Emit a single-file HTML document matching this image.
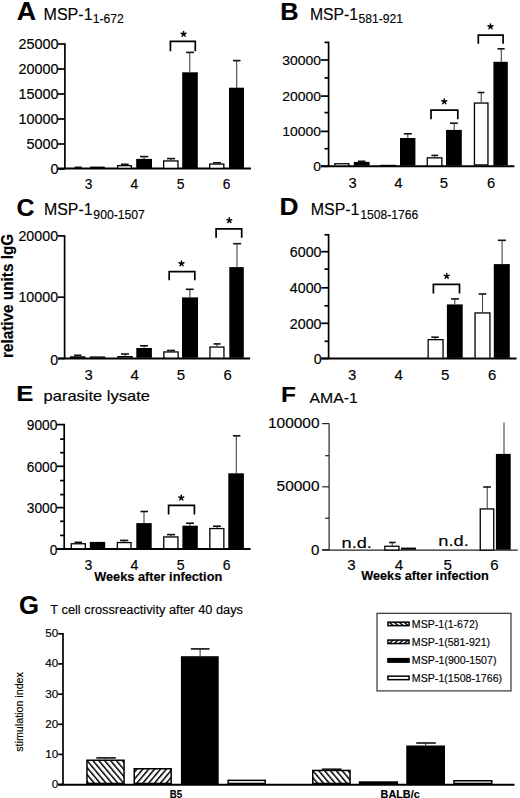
<!DOCTYPE html>
<html><head><meta charset="utf-8"><style>
html,body{margin:0;padding:0;background:#fff;}
body{width:520px;height:798px;overflow:hidden;}
svg{display:block;font-family:"Liberation Sans",sans-serif;}
text{stroke:#000;stroke-width:0.15px;}
</style></head><body>
<svg width="520" height="798" viewBox="0 0 520 798" font-family="Liberation Sans, sans-serif">
<defs><pattern id="hb" patternUnits="userSpaceOnUse" width="4.5" height="10" patternTransform="rotate(-40)"><rect width="4.5" height="10" fill="#fff"/><rect width="1.5" height="10" fill="#000"/></pattern><pattern id="hf" patternUnits="userSpaceOnUse" width="4.5" height="10" patternTransform="rotate(40)"><rect width="4.5" height="10" fill="#fff"/><rect width="1.5" height="10" fill="#000"/></pattern><pattern id="sb" patternUnits="userSpaceOnUse" width="3.2" height="10" patternTransform="rotate(-50)"><rect width="3.2" height="10" fill="#fff"/><rect width="1.4" height="10" fill="#000"/></pattern><pattern id="sf" patternUnits="userSpaceOnUse" width="3.2" height="10" patternTransform="rotate(50)"><rect width="3.2" height="10" fill="#fff"/><rect width="1.4" height="10" fill="#000"/></pattern></defs>
<rect width="520" height="798" fill="#fff"/>
<text transform="translate(16.83,20.00) scale(1.036,1)" font-size="25.94" font-weight="bold" fill="#000">A</text>
<text transform="translate(43.51,19.60) scale(0.946,1)" font-size="17.00" fill="#000">MSP-1</text>
<text transform="translate(92.79,22.70) scale(0.914,1)" font-size="13.29" fill="#000">1-672</text>
<line x1="64.90" y1="43.20" x2="64.90" y2="168.60" stroke="#000" stroke-width="1.7"/>
<line x1="58.00" y1="44.00" x2="64.90" y2="44.00" stroke="#000" stroke-width="1.7"/>
<text transform="translate(18.44,49.30) scale(1.040,1)" font-size="13.86">25000</text>
<line x1="58.00" y1="69.00" x2="64.90" y2="69.00" stroke="#000" stroke-width="1.7"/>
<text transform="translate(18.44,74.30) scale(1.040,1)" font-size="13.86">20000</text>
<line x1="58.00" y1="94.00" x2="64.90" y2="94.00" stroke="#000" stroke-width="1.7"/>
<text transform="translate(18.44,99.30) scale(1.040,1)" font-size="13.86">15000</text>
<line x1="58.00" y1="119.00" x2="64.90" y2="119.00" stroke="#000" stroke-width="1.7"/>
<text transform="translate(18.44,124.30) scale(1.040,1)" font-size="13.86">10000</text>
<line x1="58.00" y1="144.00" x2="64.90" y2="144.00" stroke="#000" stroke-width="1.7"/>
<text transform="translate(26.44,149.30) scale(1.040,1)" font-size="13.86">5000</text>
<line x1="58.00" y1="169.00" x2="64.90" y2="169.00" stroke="#000" stroke-width="1.7"/>
<text transform="translate(50.51,174.30) scale(1.040,1)" font-size="13.86">0</text>
<line x1="58.00" y1="168.60" x2="251.00" y2="168.60" stroke="#000" stroke-width="2.0"/>
<line x1="78.00" y1="167.30" x2="78.00" y2="167.80" stroke="#444" stroke-width="1.1"/>
<line x1="74.50" y1="167.30" x2="81.70" y2="167.30" stroke="#111" stroke-width="1.6"/>
<rect x="90.00" y="166.60" width="14.80" height="1.40" fill="#000"/>
<rect x="117.65" y="165.65" width="13.70" height="2.70" fill="#fff" stroke="#000" stroke-width="1.3"/>
<line x1="124.90" y1="164.30" x2="124.90" y2="165.50" stroke="#444" stroke-width="1.1"/>
<line x1="121.00" y1="164.30" x2="128.75" y2="164.30" stroke="#111" stroke-width="1.6"/>
<rect x="136.20" y="158.90" width="15.80" height="9.10" fill="#000"/>
<line x1="144.10" y1="156.60" x2="144.10" y2="159.00" stroke="#444" stroke-width="1.1"/>
<line x1="140.00" y1="156.60" x2="148.30" y2="156.60" stroke="#111" stroke-width="1.6"/>
<rect x="163.65" y="160.95" width="14.30" height="7.40" fill="#fff" stroke="#000" stroke-width="1.3"/>
<line x1="171.00" y1="158.60" x2="171.00" y2="160.50" stroke="#444" stroke-width="1.1"/>
<line x1="167.00" y1="158.60" x2="175.00" y2="158.60" stroke="#111" stroke-width="1.6"/>
<rect x="182.20" y="72.30" width="15.60" height="95.70" fill="#000"/>
<line x1="189.80" y1="52.40" x2="189.80" y2="72.50" stroke="#444" stroke-width="1.1"/>
<line x1="186.00" y1="52.40" x2="194.00" y2="52.40" stroke="#111" stroke-width="1.6"/>
<polyline points="170.40,51.30 170.40,41.35 195.30,41.35 195.30,51.30" fill="none" stroke="#000" stroke-width="1.7"/>
<path d="M183.60,34.03L183.60,31.43M183.60,34.03L186.07,33.23M183.60,34.03L185.13,36.13M183.60,34.03L182.07,36.13M183.60,34.03L181.13,33.23" stroke="#000" stroke-width="1.45" stroke-linecap="round" fill="none"/>
<rect x="209.65" y="164.05" width="14.20" height="4.30" fill="#fff" stroke="#000" stroke-width="1.3"/>
<line x1="216.80" y1="162.80" x2="216.80" y2="163.50" stroke="#444" stroke-width="1.1"/>
<line x1="213.00" y1="162.80" x2="221.00" y2="162.80" stroke="#111" stroke-width="1.6"/>
<rect x="229.00" y="87.70" width="15.00" height="80.30" fill="#000"/>
<line x1="236.70" y1="60.60" x2="236.70" y2="88.00" stroke="#444" stroke-width="1.1"/>
<line x1="233.00" y1="60.60" x2="240.50" y2="60.60" stroke="#111" stroke-width="1.6"/>
<text transform="translate(84.79,189.30) scale(1.000,1)" font-size="13.71">3</text>
<text transform="translate(130.61,189.30) scale(1.000,1)" font-size="13.91">4</text>
<text transform="translate(176.74,189.30) scale(1.000,1)" font-size="13.91">5</text>
<text transform="translate(222.73,189.30) scale(1.000,1)" font-size="13.71">6</text>
<text transform="translate(280.35,19.50) scale(1.063,1)" font-size="23.91" font-weight="bold" fill="#000">B</text>
<text transform="translate(309.94,19.70) scale(0.918,1)" font-size="17.14" fill="#000">MSP-1</text>
<text transform="translate(358.51,22.90) scale(0.954,1)" font-size="12.71" fill="#000">581-921</text>
<line x1="328.60" y1="41.60" x2="328.60" y2="166.30" stroke="#000" stroke-width="1.7"/>
<line x1="321.00" y1="60.00" x2="328.60" y2="60.00" stroke="#000" stroke-width="1.7"/>
<text transform="translate(282.16,64.70) scale(1.040,1)" font-size="13.43">30000</text>
<line x1="321.00" y1="96.10" x2="328.60" y2="96.10" stroke="#000" stroke-width="1.7"/>
<text transform="translate(282.16,100.80) scale(1.040,1)" font-size="13.43">20000</text>
<line x1="321.00" y1="131.40" x2="328.60" y2="131.40" stroke="#000" stroke-width="1.7"/>
<text transform="translate(282.16,136.10) scale(1.040,1)" font-size="13.43">10000</text>
<line x1="321.00" y1="166.30" x2="328.60" y2="166.30" stroke="#000" stroke-width="1.7"/>
<text transform="translate(313.24,171.00) scale(1.040,1)" font-size="13.43">0</text>
<line x1="324.50" y1="42.40" x2="328.60" y2="42.40" stroke="#000" stroke-width="1.7"/>
<line x1="324.50" y1="77.90" x2="328.60" y2="77.90" stroke="#000" stroke-width="1.7"/>
<line x1="324.50" y1="112.60" x2="328.60" y2="112.60" stroke="#000" stroke-width="1.7"/>
<line x1="324.50" y1="148.70" x2="328.60" y2="148.70" stroke="#000" stroke-width="1.7"/>
<line x1="321.00" y1="166.30" x2="514.40" y2="166.30" stroke="#000" stroke-width="2.0"/>
<rect x="334.85" y="163.75" width="14.10" height="2.20" fill="#fff" stroke="#000" stroke-width="1.3"/>
<rect x="353.80" y="161.90" width="15.80" height="3.70" fill="#000"/>
<line x1="361.70" y1="161.30" x2="361.70" y2="162.00" stroke="#444" stroke-width="1.1"/>
<line x1="358.00" y1="161.30" x2="365.50" y2="161.30" stroke="#111" stroke-width="1.6"/>
<rect x="381.05" y="165.45" width="14.10" height="0.50" fill="#fff" stroke="#000" stroke-width="1.3"/>
<rect x="400.00" y="138.00" width="15.40" height="27.60" fill="#000"/>
<line x1="407.80" y1="133.80" x2="407.80" y2="138.20" stroke="#444" stroke-width="1.1"/>
<line x1="403.80" y1="133.80" x2="411.90" y2="133.80" stroke="#111" stroke-width="1.6"/>
<rect x="427.25" y="157.85" width="14.60" height="8.10" fill="#fff" stroke="#000" stroke-width="1.3"/>
<line x1="434.80" y1="155.40" x2="434.80" y2="157.50" stroke="#444" stroke-width="1.1"/>
<line x1="431.40" y1="155.40" x2="438.20" y2="155.40" stroke="#111" stroke-width="1.6"/>
<rect x="446.00" y="129.90" width="15.80" height="35.70" fill="#000"/>
<line x1="454.20" y1="123.20" x2="454.20" y2="130.00" stroke="#444" stroke-width="1.1"/>
<line x1="450.00" y1="123.20" x2="457.80" y2="123.20" stroke="#111" stroke-width="1.6"/>
<polyline points="431.00,119.30 431.00,110.05 457.80,110.05 457.80,119.30" fill="none" stroke="#000" stroke-width="1.7"/>
<path d="M444.30,101.53L444.30,98.93M444.30,101.53L446.77,100.73M444.30,101.53L445.83,103.63M444.30,101.53L442.77,103.63M444.30,101.53L441.83,100.73" stroke="#000" stroke-width="1.45" stroke-linecap="round" fill="none"/>
<rect x="474.45" y="103.05" width="13.50" height="61.90" fill="#fff" stroke="#000" stroke-width="1.3"/>
<line x1="481.20" y1="92.50" x2="481.20" y2="102.60" stroke="#444" stroke-width="1.1"/>
<line x1="477.60" y1="92.50" x2="484.40" y2="92.50" stroke="#111" stroke-width="1.6"/>
<rect x="493.40" y="61.80" width="14.40" height="103.80" fill="#000"/>
<line x1="501.30" y1="48.80" x2="501.30" y2="62.00" stroke="#444" stroke-width="1.1"/>
<line x1="497.50" y1="48.80" x2="504.70" y2="48.80" stroke="#111" stroke-width="1.6"/>
<polyline points="478.30,43.80 478.30,35.15 503.10,35.15 503.10,43.80" fill="none" stroke="#000" stroke-width="1.7"/>
<path d="M490.50,26.53L490.50,23.93M490.50,26.53L492.97,25.73M490.50,26.53L492.03,28.63M490.50,26.53L488.97,28.63M490.50,26.53L488.03,25.73" stroke="#000" stroke-width="1.45" stroke-linecap="round" fill="none"/>
<text transform="translate(348.42,187.80) scale(1.000,1)" font-size="14.71">3</text>
<text transform="translate(394.13,187.80) scale(1.000,1)" font-size="14.93">4</text>
<text transform="translate(439.86,187.80) scale(1.000,1)" font-size="14.93">5</text>
<text transform="translate(487.04,187.80) scale(1.000,1)" font-size="14.71">6</text>
<text transform="translate(16.50,215.80) scale(1.069,1)" font-size="23.29" font-weight="bold" fill="#000">C</text>
<text transform="translate(44.03,215.10) scale(0.958,1)" font-size="16.57" fill="#000">MSP-1</text>
<text transform="translate(93.35,218.90) scale(0.982,1)" font-size="12.43" fill="#000">900-1507</text>
<line x1="64.60" y1="235.10" x2="64.60" y2="358.40" stroke="#000" stroke-width="1.7"/>
<line x1="58.00" y1="235.90" x2="64.60" y2="235.90" stroke="#000" stroke-width="1.7"/>
<text transform="translate(18.45,240.90) scale(1.040,1)" font-size="13.71">20000</text>
<line x1="58.00" y1="297.20" x2="64.60" y2="297.20" stroke="#000" stroke-width="1.7"/>
<text transform="translate(18.45,302.20) scale(1.040,1)" font-size="13.71">10000</text>
<line x1="58.00" y1="358.50" x2="64.60" y2="358.50" stroke="#000" stroke-width="1.7"/>
<text transform="translate(50.18,364.90) scale(1.040,1)" font-size="13.71">0</text>
<line x1="58.00" y1="358.40" x2="250.20" y2="358.40" stroke="#000" stroke-width="2.0"/>
<rect x="70.65" y="356.95" width="14.10" height="1.20" fill="#fff" stroke="#000" stroke-width="1.3"/>
<line x1="77.70" y1="355.30" x2="77.70" y2="356.50" stroke="#444" stroke-width="1.1"/>
<line x1="74.00" y1="355.30" x2="81.50" y2="355.30" stroke="#111" stroke-width="1.6"/>
<rect x="89.80" y="356.40" width="15.40" height="1.40" fill="#000"/>
<rect x="117.95" y="356.65" width="14.10" height="1.50" fill="#fff" stroke="#000" stroke-width="1.3"/>
<line x1="125.00" y1="354.00" x2="125.00" y2="356.20" stroke="#444" stroke-width="1.1"/>
<line x1="121.00" y1="354.00" x2="129.00" y2="354.00" stroke="#111" stroke-width="1.6"/>
<rect x="136.30" y="348.00" width="15.60" height="9.80" fill="#000"/>
<line x1="144.10" y1="345.80" x2="144.10" y2="348.20" stroke="#444" stroke-width="1.1"/>
<line x1="140.00" y1="345.80" x2="148.00" y2="345.80" stroke="#111" stroke-width="1.6"/>
<rect x="163.85" y="351.95" width="14.30" height="6.20" fill="#fff" stroke="#000" stroke-width="1.3"/>
<line x1="171.00" y1="350.50" x2="171.00" y2="351.50" stroke="#444" stroke-width="1.1"/>
<line x1="167.00" y1="350.50" x2="175.00" y2="350.50" stroke="#111" stroke-width="1.6"/>
<rect x="182.00" y="297.40" width="16.00" height="60.40" fill="#000"/>
<line x1="189.90" y1="289.30" x2="189.90" y2="297.60" stroke="#444" stroke-width="1.1"/>
<line x1="185.80" y1="289.30" x2="193.70" y2="289.30" stroke="#111" stroke-width="1.6"/>
<polyline points="169.20,280.30 169.20,271.65 194.80,271.65 194.80,280.30" fill="none" stroke="#000" stroke-width="1.7"/>
<path d="M181.50,263.53L181.50,260.93M181.50,263.53L183.97,262.73M181.50,263.53L183.03,265.63M181.50,263.53L179.97,265.63M181.50,263.53L179.03,262.73" stroke="#000" stroke-width="1.45" stroke-linecap="round" fill="none"/>
<rect x="209.95" y="347.05" width="14.00" height="11.10" fill="#fff" stroke="#000" stroke-width="1.3"/>
<line x1="217.00" y1="343.90" x2="217.00" y2="346.60" stroke="#444" stroke-width="1.1"/>
<line x1="213.60" y1="343.90" x2="220.60" y2="343.90" stroke="#111" stroke-width="1.6"/>
<rect x="229.30" y="267.10" width="14.50" height="90.70" fill="#000"/>
<line x1="237.00" y1="243.70" x2="237.00" y2="267.30" stroke="#444" stroke-width="1.1"/>
<line x1="233.10" y1="243.70" x2="241.20" y2="243.70" stroke="#111" stroke-width="1.6"/>
<polyline points="216.10,237.70 216.10,228.95 241.70,228.95 241.70,237.70" fill="none" stroke="#000" stroke-width="1.7"/>
<path d="M229.30,220.43L229.30,217.83M229.30,220.43L231.77,219.63M229.30,220.43L230.83,222.53M229.30,220.43L227.77,222.53M229.30,220.43L226.83,219.63" stroke="#000" stroke-width="1.45" stroke-linecap="round" fill="none"/>
<text transform="translate(84.38,379.80) scale(1.000,1)" font-size="14.86">3</text>
<text transform="translate(130.49,379.80) scale(1.000,1)" font-size="15.07">4</text>
<text transform="translate(176.72,379.80) scale(1.000,1)" font-size="15.07">5</text>
<text transform="translate(223.60,379.80) scale(1.000,1)" font-size="14.86">6</text>
<text transform="translate(279.59,215.00) scale(1.122,1)" font-size="23.48" font-weight="bold" fill="#000">D</text>
<text transform="translate(310.72,215.30) scale(0.972,1)" font-size="16.43" fill="#000">MSP-1</text>
<text transform="translate(360.29,219.20) scale(0.922,1)" font-size="13.14" fill="#000">1508-1766</text>
<line x1="328.60" y1="234.00" x2="328.60" y2="358.40" stroke="#000" stroke-width="1.7"/>
<line x1="321.30" y1="251.70" x2="328.60" y2="251.70" stroke="#000" stroke-width="1.7"/>
<text transform="translate(289.86,257.00) scale(1.040,1)" font-size="13.71">6000</text>
<line x1="321.30" y1="287.80" x2="328.60" y2="287.80" stroke="#000" stroke-width="1.7"/>
<text transform="translate(289.86,293.10) scale(1.040,1)" font-size="13.71">4000</text>
<line x1="321.30" y1="323.30" x2="328.60" y2="323.30" stroke="#000" stroke-width="1.7"/>
<text transform="translate(289.86,328.60) scale(1.040,1)" font-size="13.71">2000</text>
<line x1="321.30" y1="358.50" x2="328.60" y2="358.50" stroke="#000" stroke-width="1.7"/>
<text transform="translate(313.68,363.80) scale(1.040,1)" font-size="13.71">0</text>
<line x1="324.50" y1="234.80" x2="328.60" y2="234.80" stroke="#000" stroke-width="1.7"/>
<line x1="324.50" y1="269.10" x2="328.60" y2="269.10" stroke="#000" stroke-width="1.7"/>
<line x1="324.50" y1="305.80" x2="328.60" y2="305.80" stroke="#000" stroke-width="1.7"/>
<line x1="324.50" y1="341.30" x2="328.60" y2="341.30" stroke="#000" stroke-width="1.7"/>
<line x1="321.30" y1="358.50" x2="516.60" y2="358.50" stroke="#000" stroke-width="2.0"/>
<rect x="428.15" y="339.65" width="14.90" height="18.60" fill="#fff" stroke="#000" stroke-width="1.3"/>
<line x1="435.10" y1="337.20" x2="435.10" y2="339.20" stroke="#444" stroke-width="1.1"/>
<line x1="431.30" y1="337.20" x2="438.80" y2="337.20" stroke="#111" stroke-width="1.6"/>
<rect x="446.90" y="304.40" width="15.80" height="53.50" fill="#000"/>
<line x1="454.80" y1="298.90" x2="454.80" y2="304.60" stroke="#444" stroke-width="1.1"/>
<line x1="451.10" y1="298.90" x2="459.00" y2="298.90" stroke="#111" stroke-width="1.6"/>
<polyline points="433.40,293.50 433.40,284.35 459.50,284.35 459.50,293.50" fill="none" stroke="#000" stroke-width="1.7"/>
<path d="M446.70,276.13L446.70,273.53M446.70,276.13L449.17,275.33M446.70,276.13L448.23,278.23M446.70,276.13L445.17,278.23M446.70,276.13L444.23,275.33" stroke="#000" stroke-width="1.45" stroke-linecap="round" fill="none"/>
<rect x="475.05" y="312.95" width="14.90" height="45.30" fill="#fff" stroke="#000" stroke-width="1.3"/>
<line x1="482.50" y1="294.00" x2="482.50" y2="312.50" stroke="#444" stroke-width="1.1"/>
<line x1="478.60" y1="294.00" x2="486.30" y2="294.00" stroke="#111" stroke-width="1.6"/>
<rect x="493.80" y="264.10" width="16.00" height="93.80" fill="#000"/>
<line x1="502.10" y1="240.30" x2="502.10" y2="264.30" stroke="#444" stroke-width="1.1"/>
<line x1="497.80" y1="240.30" x2="505.90" y2="240.30" stroke="#111" stroke-width="1.6"/>
<text transform="translate(348.08,380.00) scale(1.000,1)" font-size="14.86">3</text>
<text transform="translate(394.59,380.00) scale(1.000,1)" font-size="15.07">4</text>
<text transform="translate(441.02,380.00) scale(1.000,1)" font-size="15.07">5</text>
<text transform="translate(487.90,380.00) scale(1.000,1)" font-size="14.86">6</text>
<text transform="translate(16.13,400.90) scale(1.205,1)" font-size="21.30" font-weight="bold" fill="#000">E</text>
<text transform="translate(43.53,400.90) scale(1.185,1)" font-size="13.93" fill="#000">parasite lysate</text>
<line x1="64.20" y1="423.80" x2="64.20" y2="549.00" stroke="#000" stroke-width="1.7"/>
<line x1="56.50" y1="424.60" x2="64.20" y2="424.60" stroke="#000" stroke-width="1.7"/>
<text transform="translate(26.77,430.40) scale(1.000,1)" font-size="13.71">9000</text>
<line x1="56.50" y1="466.30" x2="64.20" y2="466.30" stroke="#000" stroke-width="1.7"/>
<text transform="translate(26.77,472.10) scale(1.000,1)" font-size="13.71">6000</text>
<line x1="56.50" y1="507.60" x2="64.20" y2="507.60" stroke="#000" stroke-width="1.7"/>
<text transform="translate(26.77,513.40) scale(1.000,1)" font-size="13.71">3000</text>
<line x1="56.50" y1="548.90" x2="64.20" y2="548.90" stroke="#000" stroke-width="1.7"/>
<text transform="translate(49.67,554.70) scale(1.000,1)" font-size="13.71">0</text>
<line x1="60.10" y1="439.10" x2="64.20" y2="439.10" stroke="#000" stroke-width="1.7"/>
<line x1="60.10" y1="452.70" x2="64.20" y2="452.70" stroke="#000" stroke-width="1.7"/>
<line x1="60.10" y1="480.60" x2="64.20" y2="480.60" stroke="#000" stroke-width="1.7"/>
<line x1="60.10" y1="494.60" x2="64.20" y2="494.60" stroke="#000" stroke-width="1.7"/>
<line x1="60.10" y1="521.30" x2="64.20" y2="521.30" stroke="#000" stroke-width="1.7"/>
<line x1="60.10" y1="535.40" x2="64.20" y2="535.40" stroke="#000" stroke-width="1.7"/>
<line x1="56.50" y1="549.00" x2="250.50" y2="549.00" stroke="#000" stroke-width="2.0"/>
<rect x="71.25" y="543.75" width="14.10" height="5.00" fill="#fff" stroke="#000" stroke-width="1.3"/>
<line x1="78.30" y1="542.30" x2="78.30" y2="543.30" stroke="#444" stroke-width="1.1"/>
<line x1="74.50" y1="542.30" x2="82.00" y2="542.30" stroke="#111" stroke-width="1.6"/>
<rect x="89.80" y="541.90" width="15.40" height="6.50" fill="#000"/>
<rect x="117.35" y="542.55" width="13.70" height="6.20" fill="#fff" stroke="#000" stroke-width="1.3"/>
<line x1="124.20" y1="540.40" x2="124.20" y2="542.10" stroke="#444" stroke-width="1.1"/>
<line x1="120.00" y1="540.40" x2="128.30" y2="540.40" stroke="#111" stroke-width="1.6"/>
<rect x="136.30" y="523.10" width="15.40" height="25.30" fill="#000"/>
<line x1="144.00" y1="511.50" x2="144.00" y2="523.30" stroke="#444" stroke-width="1.1"/>
<line x1="140.40" y1="511.50" x2="148.00" y2="511.50" stroke="#111" stroke-width="1.6"/>
<rect x="163.75" y="536.95" width="14.20" height="11.80" fill="#fff" stroke="#000" stroke-width="1.3"/>
<line x1="171.00" y1="534.60" x2="171.00" y2="536.50" stroke="#444" stroke-width="1.1"/>
<line x1="166.90" y1="534.60" x2="175.00" y2="534.60" stroke="#111" stroke-width="1.6"/>
<rect x="182.40" y="525.70" width="15.40" height="22.70" fill="#000"/>
<line x1="190.00" y1="523.20" x2="190.00" y2="525.90" stroke="#444" stroke-width="1.1"/>
<line x1="186.00" y1="523.20" x2="194.00" y2="523.20" stroke="#111" stroke-width="1.6"/>
<polyline points="168.60,514.50 168.60,505.45 194.40,505.45 194.40,514.50" fill="none" stroke="#000" stroke-width="1.7"/>
<path d="M181.30,497.83L181.30,495.23M181.30,497.83L183.77,497.03M181.30,497.83L182.83,499.93M181.30,497.83L179.77,499.93M181.30,497.83L178.83,497.03" stroke="#000" stroke-width="1.45" stroke-linecap="round" fill="none"/>
<rect x="209.85" y="528.55" width="14.00" height="20.20" fill="#fff" stroke="#000" stroke-width="1.3"/>
<line x1="217.00" y1="526.20" x2="217.00" y2="528.10" stroke="#444" stroke-width="1.1"/>
<line x1="213.00" y1="526.20" x2="220.90" y2="526.20" stroke="#111" stroke-width="1.6"/>
<rect x="228.30" y="473.30" width="15.60" height="75.10" fill="#000"/>
<line x1="236.30" y1="435.80" x2="236.30" y2="473.50" stroke="#444" stroke-width="1.1"/>
<line x1="232.90" y1="435.80" x2="240.40" y2="435.80" stroke="#111" stroke-width="1.6"/>
<text transform="translate(84.62,570.00) scale(1.000,1)" font-size="14.00">3</text>
<text transform="translate(130.53,570.00) scale(1.000,1)" font-size="14.20">4</text>
<text transform="translate(176.76,570.00) scale(1.000,1)" font-size="14.20">5</text>
<text transform="translate(222.65,570.00) scale(1.000,1)" font-size="14.00">6</text>
<text transform="translate(94.20,580.50) scale(1.005,1)" font-size="12.69" font-weight="bold" fill="#000">Weeks after infection</text>
<text transform="translate(280.91,402.00) scale(1.077,1)" font-size="22.75" font-weight="bold" fill="#000">F</text>
<text transform="translate(309.50,402.50) scale(1.037,1)" font-size="15.22" fill="#000">AMA-1</text>
<line x1="329.10" y1="423.60" x2="329.10" y2="550.20" stroke="#222" stroke-width="1.2"/>
<line x1="322.10" y1="423.60" x2="329.10" y2="423.60" stroke="#222" stroke-width="1.2"/>
<text transform="translate(268.01,427.90) scale(1.030,1)" font-size="15.00">100000</text>
<line x1="322.10" y1="486.80" x2="329.10" y2="486.80" stroke="#222" stroke-width="1.2"/>
<text transform="translate(276.59,491.20) scale(1.030,1)" font-size="15.00">50000</text>
<line x1="322.10" y1="549.70" x2="329.10" y2="549.70" stroke="#222" stroke-width="1.2"/>
<text transform="translate(311.12,555.00) scale(1.030,1)" font-size="14.71">0</text>
<line x1="325.10" y1="455.70" x2="329.10" y2="455.70" stroke="#222" stroke-width="1.2"/>
<line x1="325.10" y1="518.20" x2="329.10" y2="518.20" stroke="#222" stroke-width="1.2"/>
<line x1="322.10" y1="550.20" x2="517.70" y2="550.20" stroke="#222" stroke-width="1.3"/>
<text transform="translate(341.52,548.40) scale(1.223,1)" font-size="14.90" fill="#000">n.d.</text>
<text transform="translate(438.31,546.30) scale(1.205,1)" font-size="15.17" fill="#000">n.d.</text>
<rect x="384.85" y="546.25" width="14.10" height="3.80" fill="#fff" stroke="#000" stroke-width="1.3"/>
<line x1="392.20" y1="542.50" x2="392.20" y2="545.80" stroke="#444" stroke-width="1.1"/>
<line x1="389.00" y1="542.50" x2="395.60" y2="542.50" stroke="#111" stroke-width="1.6"/>
<rect x="401.00" y="547.60" width="15.00" height="2.10" fill="#000"/>
<rect x="480.25" y="508.95" width="13.50" height="41.10" fill="#fff" stroke="#000" stroke-width="1.3"/>
<line x1="487.20" y1="487.00" x2="487.20" y2="508.50" stroke="#444" stroke-width="1.1"/>
<line x1="483.20" y1="487.00" x2="490.90" y2="487.00" stroke="#111" stroke-width="1.6"/>
<rect x="495.90" y="453.90" width="14.80" height="95.80" fill="#000"/>
<line x1="504.00" y1="422.60" x2="504.00" y2="454.00" stroke="#444" stroke-width="1.1"/>
<text transform="translate(347.34,570.30) scale(1.000,1)" font-size="15.00">3</text>
<text transform="translate(394.85,570.30) scale(1.000,1)" font-size="15.22">4</text>
<text transform="translate(443.38,570.30) scale(1.000,1)" font-size="15.22">5</text>
<text transform="translate(490.16,570.30) scale(1.000,1)" font-size="15.00">6</text>
<text transform="translate(361.20,580.40) scale(1.014,1)" font-size="12.55" font-weight="bold" fill="#000">Weeks after infection</text>
<text transform="translate(19.07,613.60) scale(0.980,1)" font-size="26.14" font-weight="bold" fill="#000">G</text>
<text transform="translate(50.34,613.60) scale(0.969,1)" font-size="13.24" fill="#000">T cell crossreactivity after 40 days</text>
<line x1="63.00" y1="633.00" x2="63.00" y2="784.80" stroke="#000" stroke-width="1.7"/>
<line x1="58.30" y1="633.80" x2="63.00" y2="633.80" stroke="#000" stroke-width="1.7"/>
<text transform="translate(45.36,637.30) scale(1.150,1)" font-size="10.14">50</text>
<line x1="58.30" y1="663.90" x2="63.00" y2="663.90" stroke="#000" stroke-width="1.7"/>
<text transform="translate(45.36,667.40) scale(1.150,1)" font-size="10.14">40</text>
<line x1="58.30" y1="694.20" x2="63.00" y2="694.20" stroke="#000" stroke-width="1.7"/>
<text transform="translate(45.36,697.70) scale(1.150,1)" font-size="10.14">30</text>
<line x1="58.30" y1="724.30" x2="63.00" y2="724.30" stroke="#000" stroke-width="1.7"/>
<text transform="translate(45.36,727.80) scale(1.150,1)" font-size="10.14">20</text>
<line x1="58.30" y1="754.40" x2="63.00" y2="754.40" stroke="#000" stroke-width="1.7"/>
<text transform="translate(45.36,757.90) scale(1.150,1)" font-size="10.14">10</text>
<line x1="58.30" y1="784.50" x2="63.00" y2="784.50" stroke="#000" stroke-width="1.7"/>
<text transform="translate(51.83,788.00) scale(1.150,1)" font-size="10.14">0</text>
<line x1="58.30" y1="784.80" x2="514.50" y2="784.80" stroke="#000" stroke-width="2.0"/>
<rect x="86.95" y="760.25" width="37.10" height="23.20" fill="url(#hb)" stroke="#000" stroke-width="1.5"/>
<line x1="105.50" y1="757.90" x2="105.50" y2="759.50" stroke="#444" stroke-width="1.1"/>
<line x1="96.30" y1="757.90" x2="115.80" y2="757.90" stroke="#111" stroke-width="1.6"/>
<rect x="134.25" y="768.75" width="36.90" height="14.70" fill="url(#hf)" stroke="#000" stroke-width="1.5"/>
<rect x="180.90" y="656.20" width="37.80" height="128.00" fill="#000"/>
<line x1="200.10" y1="648.90" x2="200.10" y2="656.40" stroke="#444" stroke-width="1.1"/>
<line x1="190.80" y1="648.90" x2="209.60" y2="648.90" stroke="#111" stroke-width="1.6"/>
<rect x="228.15" y="780.35" width="37.10" height="3.10" fill="#fff" stroke="#000" stroke-width="1.5"/>
<rect x="312.75" y="770.45" width="37.30" height="13.00" fill="url(#hb)" stroke="#000" stroke-width="1.5"/>
<line x1="331.70" y1="769.20" x2="331.70" y2="769.70" stroke="#444" stroke-width="1.1"/>
<line x1="321.90" y1="769.20" x2="341.50" y2="769.20" stroke="#111" stroke-width="1.6"/>
<rect x="359.55" y="782.05" width="37.80" height="1.40" fill="url(#hf)" stroke="#000" stroke-width="1.5"/>
<rect x="406.25" y="745.50" width="38.75" height="38.70" fill="#000"/>
<line x1="425.60" y1="743.00" x2="425.60" y2="745.70" stroke="#444" stroke-width="1.1"/>
<line x1="416.25" y1="743.00" x2="435.75" y2="743.00" stroke="#111" stroke-width="1.6"/>
<rect x="454.00" y="780.75" width="37.75" height="2.70" fill="#fff" stroke="#000" stroke-width="1.5"/>
<text transform="translate(169.77,797.80) scale(0.837,1)" font-size="11.59" font-weight="bold" fill="#000">B5</text>
<text transform="translate(380.60,797.80) scale(0.982,1)" font-size="11.03" font-weight="bold" fill="#000">BALB/c</text>
<rect x="377" y="613.3" width="134" height="77.6" fill="#fff" stroke="#333" stroke-width="1.2"/>
<rect x="387.95" y="622.15" width="21.10" height="3.50" fill="url(#sb)" stroke="#000" stroke-width="1.5"/>
<text transform="translate(411.85,627.80) scale(0.904,1)" font-size="11.72" fill="#000">MSP-1(1-672)</text>
<rect x="387.95" y="640.05" width="21.10" height="3.50" fill="url(#sf)" stroke="#000" stroke-width="1.5"/>
<text transform="translate(411.85,645.70) scale(0.905,1)" font-size="11.72" fill="#000">MSP-1(581-921)</text>
<rect x="387.95" y="658.65" width="21.10" height="3.50" fill="#000" stroke="#000" stroke-width="1.5"/>
<text transform="translate(411.85,664.30) scale(0.910,1)" font-size="11.72" fill="#000">MSP-1(900-1507)</text>
<rect x="387.95" y="676.15" width="21.10" height="3.50" fill="#fff" stroke="#000" stroke-width="1.5"/>
<text transform="translate(411.85,681.80) scale(0.907,1)" font-size="11.72" fill="#000">MSP-1(1508-1766)</text>
<text transform="translate(13.40,358.00) rotate(-90) scale(0.966,1)" font-size="15.86" font-weight="bold">relative units IgG</text>
<text transform="translate(22.70,751.72) rotate(-90) scale(1.021,1)" font-size="10.48">stimulation index</text>
</svg>
</body></html>
